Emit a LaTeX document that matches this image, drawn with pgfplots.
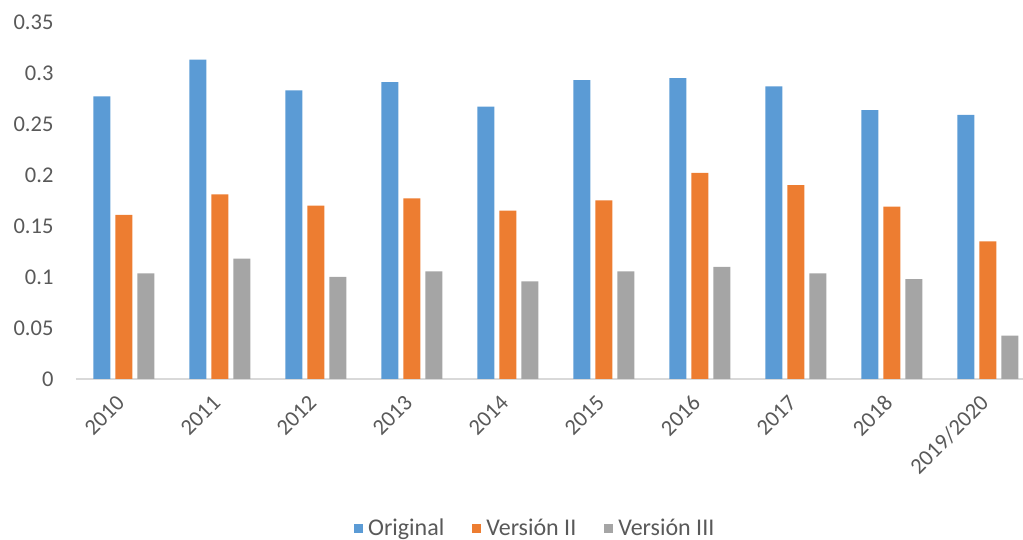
\documentclass[border=0pt]{standalone}
\usepackage{fontspec}
\setmainfont{Carlito}
\usepackage{pgfplots}
\pgfplotsset{compat=1.18}
\definecolor{cblue}{HTML}{5B9BD5}
\definecolor{corange}{HTML}{ED7D31}
\definecolor{cgray}{HTML}{A5A5A5}
\definecolor{ctext}{HTML}{595959}
\definecolor{caxis}{HTML}{D9D9D9}
\begin{document}
\begin{tikzpicture}
\useasboundingbox (-76pt,-161pt) rectangle (947pt,379pt);
\begin{axis}[
  scale only axis,
  width=947pt, height=357pt,
  xmin=-0.5, xmax=9.365,
  ymin=0, ymax=0.35,
  ybar=5pt, bar width=17pt,
  xtick={0,...,9},
  xticklabels={2010,2011,2012,2013,2014,2015,2016,2017,2018,2019/2020},
  ytick={0,0.05,0.1,0.15,0.2,0.25,0.3,0.35},
  yticklabels={0,0.05,0.1,0.15,0.2,0.25,0.3,0.35},
  major tick length=0pt,
  axis x line*=bottom,
  axis y line*=left,
  x axis line style={draw=caxis, line width=1.5pt},
  y axis line style={draw=none},
  ticklabel style={font=\fontsize{22.5}{26}\selectfont, text=ctext},
  yticklabel style={xshift=-19pt},
  xticklabel style={shift={(-1pt,-18pt)}, rotate=45, anchor=east},
  legend style={at={(0.485,-0.416)}, anchor=center, draw=none,
    font=\fontsize{24}{28}\selectfont, text=ctext, legend columns=-1,
    /tikz/every odd column/.append style={column sep=3pt},
    /tikz/every even column/.append style={column sep=26pt},
    nodes={inner sep=2pt},
    inner sep=0pt},
  legend image code/.code={\path[#1,draw=none] (0pt,-5pt) rectangle (9pt,4pt);},
  clip=false,
]
\addplot[fill=cblue, draw=none] coordinates {(0,0.277) (1,0.313) (2,0.283) (3,0.291) (4,0.267) (5,0.293) (6,0.295) (7,0.287) (8,0.2635) (9,0.259)};
\addplot[fill=corange, draw=none] coordinates {(0,0.161) (1,0.181) (2,0.170) (3,0.177) (4,0.165) (5,0.175) (6,0.202) (7,0.190) (8,0.169) (9,0.135)};
\addplot[fill=cgray, draw=none] coordinates {(0,0.1035) (1,0.118) (2,0.100) (3,0.1055) (4,0.0957) (5,0.1055) (6,0.110) (7,0.1035) (8,0.098) (9,0.0426)};
\legend{Original, Versión II, Versión III}
\end{axis}
\end{tikzpicture}
\end{document}
